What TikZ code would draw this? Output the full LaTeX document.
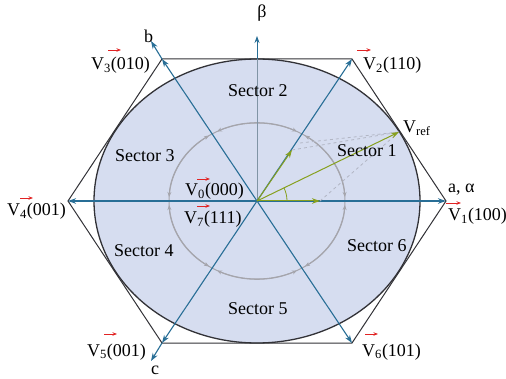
\documentclass[tikz,border=0pt]{standalone}
\usepackage{fontspec}
\setmainfont{Liberation Serif}
\usetikzlibrary{arrows.meta}
\definecolor{axisc}{RGB}{40,110,150}
\definecolor{fillc}{RGB}{214,221,240}
\definecolor{greenc}{RGB}{135,160,30}
\definecolor{arcgrey}{RGB}{165,165,172}
\definecolor{hexc}{RGB}{50,50,55}
\definecolor{redc}{RGB}{225,35,35}
\definecolor{dashc}{RGB}{178,182,196}
\begin{document}
\begin{tikzpicture}[x=1pt,y=-1pt, font=\fontsize{18}{20}\selectfont,
  axis/.style={draw=axisc, line width=1.1pt},
  axarrow/.style={axis, -{Stealth[length=8pt,width=5.5pt]}},
  hexline/.style={draw=hexc, line width=1pt, line join=miter},
  gvec/.style={draw=greenc, line width=1pt, -{Stealth[length=8pt,width=5.5pt]}},
  gcirc/.style={draw=arcgrey, line width=1pt},
  garc/.style={draw=arcgrey, line width=1pt, {Stealth[length=5pt,width=4pt]}-{Stealth[length=5pt,width=4pt]}},
  redarr/.style={draw=redc, line width=0.8pt, -{Stealth[length=4.5pt,width=3.5pt]}},
  dashline/.style={draw=dashc, line width=0.8pt, dashed},
  lbl/.style={inner sep=0pt, anchor=base west}
]
\useasboundingbox (0,0) rectangle (506,379);
\coordinate (O) at (257,201);
\coordinate (V1) at (446,201);
\coordinate (V2) at (352,59);
\coordinate (V3) at (162,59);
\coordinate (V4) at (68,201);
\coordinate (V5) at (162,343);
\coordinate (V6) at (352,343);
\coordinate (btip) at (151,41);
\coordinate (ctip) at (151,361);
\coordinate (topE) at (257,59);
\coordinate (betatip) at (257,36);
\coordinate (G1) at (320,201);
\coordinate (G2) at (292,150);
\coordinate (Vr) at (399,132);
\coordinate (D1) at (300,143);

% filled ellipse
\path[fill=fillc] (O) ellipse [x radius=163, y radius=142];
\draw[draw=hexc, line width=1.3pt] (O) ellipse [x radius=163, y radius=142];

% inner grey circle with arrows
\draw[gcirc] (O) ellipse [x radius=88, y radius=78];
\foreach \k in {0,...,5} {
  \draw[garc] ([shift={({-(60*\k+3)}:88 and 78)}]O)
     arc[start angle={-(60*\k+3)}, end angle={-(60*\k+57)}, x radius=88, y radius=78];
}

% hexagon
\draw[hexline] (V1)--(V2)--(V3)--(V4)--(V5)--(V6)--cycle;

% beta axis
\draw[draw=arcgrey!70!axisc, line width=0.7pt] (O) -- (topE);
\draw[draw=axisc, line width=0.8pt, -{Stealth[length=7pt,width=5pt]}] (topE) -- (betatip);

% axes
\draw[axarrow] (O) -- (V1);
\draw[axarrow] (O) -- (V4);
\draw[axarrow] (O) -- (V2);
\draw[axarrow] (O) -- (V6);
\draw[axarrow] (O) -- (V3);
\draw[axarrow] (V3) -- (btip);
\draw[axarrow] (O) -- (V5);
\draw[axarrow] (V5) -- (ctip);

% dashed construction
\draw[dashline] (G2) -- (Vr);
\draw[dashline] (D1) -- (Vr);
\draw[dashline] (G1) -- (Vr);

% green vectors
\draw[gvec] (O) -- (G1);
\draw[gvec] (O) -- (G2);
\draw[gvec] (O) -- (Vr);
\draw[draw=greenc, line width=0.8pt] ([shift={(0:30)}]O) arc[start angle=0, end angle=-26, radius=30];

% labels
\node[lbl] (L1) at (448,221) {V\textsubscript{1}(100)};
\node[lbl] (L2) at (363,70) {V\textsubscript{2}(110)};
\node[lbl] (L3) at (91,70) {V\textsubscript{3}(010)};
\node[lbl] (L4) at (7,216) {V\textsubscript{4}(001)};
\node[lbl] (L5) at (87,356) {V\textsubscript{5}(001)};
\node[lbl] (L6) at (362,356) {V\textsubscript{6}(101)};
\node[lbl] (L0) at (185,196) {V\textsubscript{0}(000)};
\node[lbl] (L7) at (184,224) {V\textsubscript{7}(111)};
\node[lbl] (Lr) at (403,133) {V\textsubscript{ref}};

\draw[redarr] ([shift={(-2pt,18pt)}]L1.base west) -- ++(15,0);
\draw[redarr] ([shift={(-6pt,20pt)}]L2.base west) -- ++(14,0);
\draw[redarr] ([shift={(17pt,20pt)}]L3.base west) -- ++(13,0);
\draw[redarr] ([shift={(13pt,18pt)}]L4.base west) -- ++(13,0);
\draw[redarr] ([shift={(17pt,22pt)}]L5.base west) -- ++(13,0);
\draw[redarr] ([shift={(3pt,22pt)}]L6.base west) -- ++(13,0);
\draw[redarr] ([shift={(12pt,17pt)}]L0.base west) -- ++(13,0);
\draw[redarr] ([shift={(13pt,18pt)}]L7.base west) -- ++(13,0);

\node[lbl] (S1) at (337,157) {Sector 1};
\node[lbl] (S2) at (228,97) {Sector 2};
\node[lbl] (S3) at (115,162) {Sector 3};
\node[lbl] (S4) at (114,257) {Sector 4};
\node[lbl] (S5) at (228,315) {Sector 5};
\node[lbl] (S6) at (347,252) {Sector 6};

\node[inner sep=0pt] (beta) at (262,13) {β};
\node[lbl] (blab) at (144,43) {b};
\node[lbl] (clab) at (151,374) {c};
\node[lbl] (alab) at (448,193) {a, α};
\end{tikzpicture}
\end{document}
